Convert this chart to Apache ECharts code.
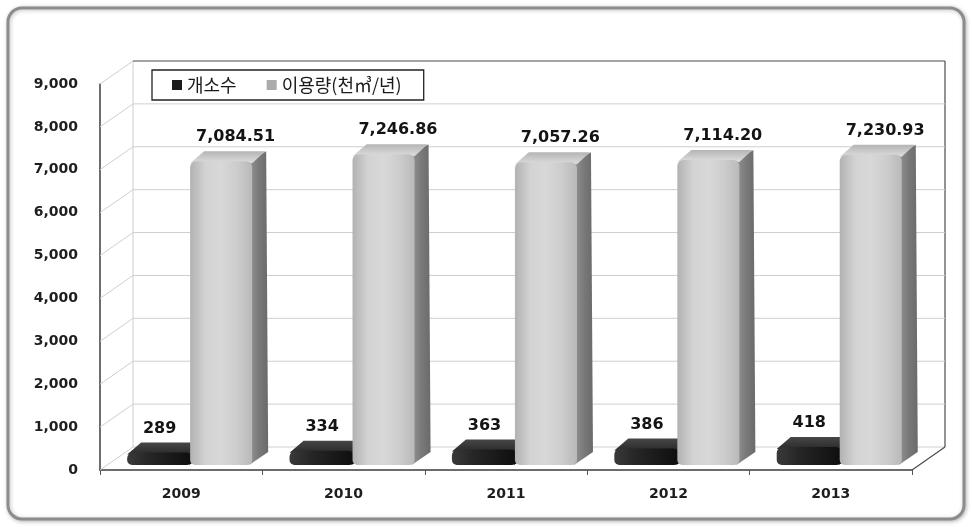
<!DOCTYPE html>
<html>
<head>
<meta charset="utf-8">
<script src="https://cdn.jsdelivr.net/npm/echarts@6/dist/echarts.min.js"></script>
<style>
  html, body { margin: 0; padding: 0; background: #ffffff; }
  #chart { width: 972px; height: 527px; }
</style>
</head>
<body>
<div id="chart"></div>
<script>
// 연도별 개소수와 이용량(천㎥/년)
const years = ['2009', '2010', '2011', '2012', '2013'];
const siteCounts = [289, 334, 363, 386, 418];
const usageVolumes = [7084.51, 7246.86, 7057.26, 7114.20, 7230.93];
const yTicks = [0, 1000, 2000, 3000, 4000, 5000, 6000, 7000, 8000, 9000];
const seriesNames = ['개소수', '이용량(천㎥/년)'];

const Y_MAX = 9000;
// perspective depth of the walls and of each column
const WALL_DX = 33, WALL_DY = 23;
const BAR_DX = 16, BAR_DY = 10, BAR_SINK = 5;
const LABEL_FONT = 'bold 16px "DejaVu Sans", sans-serif';

const fmt0 = v => v.toLocaleString('en-US');
const fmt2 = v => v.toLocaleString('en-US', { minimumFractionDigits: 2, maximumFractionDigits: 2 });

// back wall, side wall and floor outlines of the 3D box
function renderWalls(params, api) {
  const v = api.value(1);
  const cs = params.coordSys;
  const x0 = cs.x, x1 = cs.x + cs.width;
  const y = api.coord([0, v])[1];
  const light = { stroke: '#cfcfcf', lineWidth: 1 };
  const dark = { stroke: '#4a4a4a', lineWidth: 1.2 };
  const children = [
    { type: 'line', shape: { x1: x0, y1: y, x2: x0 + WALL_DX, y2: y - WALL_DY }, style: light },
    { type: 'line', shape: { x1: x0 + WALL_DX, y1: y - WALL_DY, x2: x1 + WALL_DX, y2: y - WALL_DY },
      style: v === Y_MAX ? dark : light }
  ];
  if (v === 0) {
    const yTop = api.coord([0, Y_MAX])[1];
    children.push(
      { type: 'line', shape: { x1: x1, y1: y, x2: x1 + WALL_DX, y2: y - WALL_DY }, style: dark },
      { type: 'line', shape: { x1: x0 + WALL_DX, y1: y - WALL_DY, x2: x0 + WALL_DX, y2: yTop - WALL_DY }, style: light },
      { type: 'line', shape: { x1: x1 + WALL_DX, y1: y - WALL_DY, x2: x1 + WALL_DX, y2: yTop - WALL_DY }, style: dark }
    );
  }
  return { type: 'group', children };
}

function lin(x0, y0, x1, y1, stops) {
  return new echarts.graphic.LinearGradient(x0, y0, x1, y1,
    stops.map((c, k) => ({ offset: k / (stops.length - 1), color: c })));
}

// 3D column: front face, top face, right side face and value label
function makeColumn(spec) {
  return function (params, api) {
    const i = api.value(0), v = api.value(1);
    const W = api.size([1, 0])[0];
    const base = api.coord([i, 0]);
    const cx = base[0];
    const yB = base[1] - BAR_SINK;
    const yT = api.coord([i, v])[1] - BAR_SINK;
    const xL = cx + spec.from * W, xR = cx + spec.to * W;
    const h = yB - yT;
    return {
      type: 'group',
      children: [
        { type: 'polygon',
          shape: { points: [[xR - 3, yT], [xR + BAR_DX - 2, yT - BAR_DY], [xR + BAR_DX, yB - BAR_DY - 3], [xR - 3, yB]] },
          style: { fill: lin(0, 0, 1, 0, spec.side) } },
        { type: 'polygon',
          shape: { points: [[xL, yT + 2], [xL + BAR_DX - 2, yT - BAR_DY], [xR + BAR_DX - 3, yT - BAR_DY], [xR, yT + 2]] },
          style: { fill: lin(0, 1, 0, 0, spec.top) } },
        { type: 'rect',
          shape: { x: xL, y: yT, width: xR - xL, height: h, r: [6, 6, 5, 5] },
          style: { fill: lin(0, 0, 1, 0, spec.front) } },
        { type: 'text',
          style: { text: spec.format(v), x: (xL + xR) / 2 + spec.labelShift * BAR_DX,
                   y: yT - BAR_DY - 14, align: 'center', verticalAlign: 'middle',
                   font: LABEL_FONT, fill: '#141414' } }
      ]
    };
  };
}

const tickText = { fontFamily: 'DejaVu Sans', fontWeight: 'bold', color: '#1e1e1e' };

const chart = echarts.init(document.getElementById('chart'), null, { renderer: 'canvas' });

chart.setOption({
  animation: false,
  backgroundColor: '#ffffff',
  textStyle: { fontFamily: 'DejaVu Sans' },
  graphic: [{
    type: 'rect', z: -10, silent: true,
    shape: { x: 8, y: 8, width: 956, height: 511, r: 14 },
    style: { fill: '#ffffff', stroke: '#8c8c8c', lineWidth: 3,
             shadowBlur: 4, shadowColor: 'rgba(0,0,0,0.25)', shadowOffsetX: 1, shadowOffsetY: 1 }
  }],
  legend: {
    data: seriesNames,
    left: 152, top: 70,
    orient: 'horizontal',
    icon: 'rect',
    itemWidth: 10, itemHeight: 10, itemGap: 30,
    padding: [6, 22, 6, 20],
    borderColor: '#222', borderWidth: 1.3,
    backgroundColor: '#ffffff',
    textStyle: { fontFamily: 'Noto Sans CJK KR', fontSize: 18, color: '#1a1a1a' }
  },
  grid: { left: 100, right: 60, top: 84, bottom: 57 },
  xAxis: {
    type: 'category',
    data: years,
    boundaryGap: true,
    axisLine: { lineStyle: { color: '#3c3c3c', width: 1.5 } },
    axisTick: { show: true, length: 5, lineStyle: { color: '#555' } },
    axisLabel: { margin: 17, formatter: v => '{t|' + v + '}',
                 rich: { t: Object.assign({ fontSize: 14 }, tickText) } },
    splitLine: { show: false }
  },
  yAxis: {
    type: 'value',
    min: 0, max: Y_MAX, interval: 1000,
    axisLine: { show: true, lineStyle: { color: '#3c3c3c', width: 1.5 } },
    axisTick: { show: false },
    axisLabel: { margin: 22, formatter: v => '{t|' + fmt0(v) + '}',
                 rich: { t: Object.assign({ fontSize: 14 }, tickText) } },
    splitLine: { show: false }
  },
  series: [
    {
      type: 'custom', name: 'walls', z: 1, silent: true,
      renderItem: renderWalls,
      data: yTicks.map(v => [0, v])
    },
    {
      type: 'custom', name: seriesNames[0], z: 3,
      itemStyle: { color: '#1c1c1c' },
      renderItem: makeColumn({
        from: -0.333, to: 0.068, labelShift: 0, format: fmt0,
        front: ['#3a3a3a', '#262626', '#1a1a1a', '#0e0e0e'],
        top: ['#2a2a2a', '#474747'],
        side: ['#151515', '#060606']
      }),
      data: siteCounts.map((v, i) => [i, v])
    },
    {
      type: 'custom', name: seriesNames[1], z: 4,
      itemStyle: { color: '#ababab' },
      renderItem: makeColumn({
        from: 0.055, to: 0.437, labelShift: 0.9, format: fmt2,
        front: ['#b2b2b2', '#d3d3d3', '#d8d8d8', '#cdcdcd', '#b9b9b9'],
        top: ['#dedede', '#b4b4b4'],
        side: ['#939393', '#7a7a7a', '#6a6a6a']
      }),
      data: usageVolumes.map((v, i) => [i, v])
    }
  ]
});
</script>
</body>
</html>
